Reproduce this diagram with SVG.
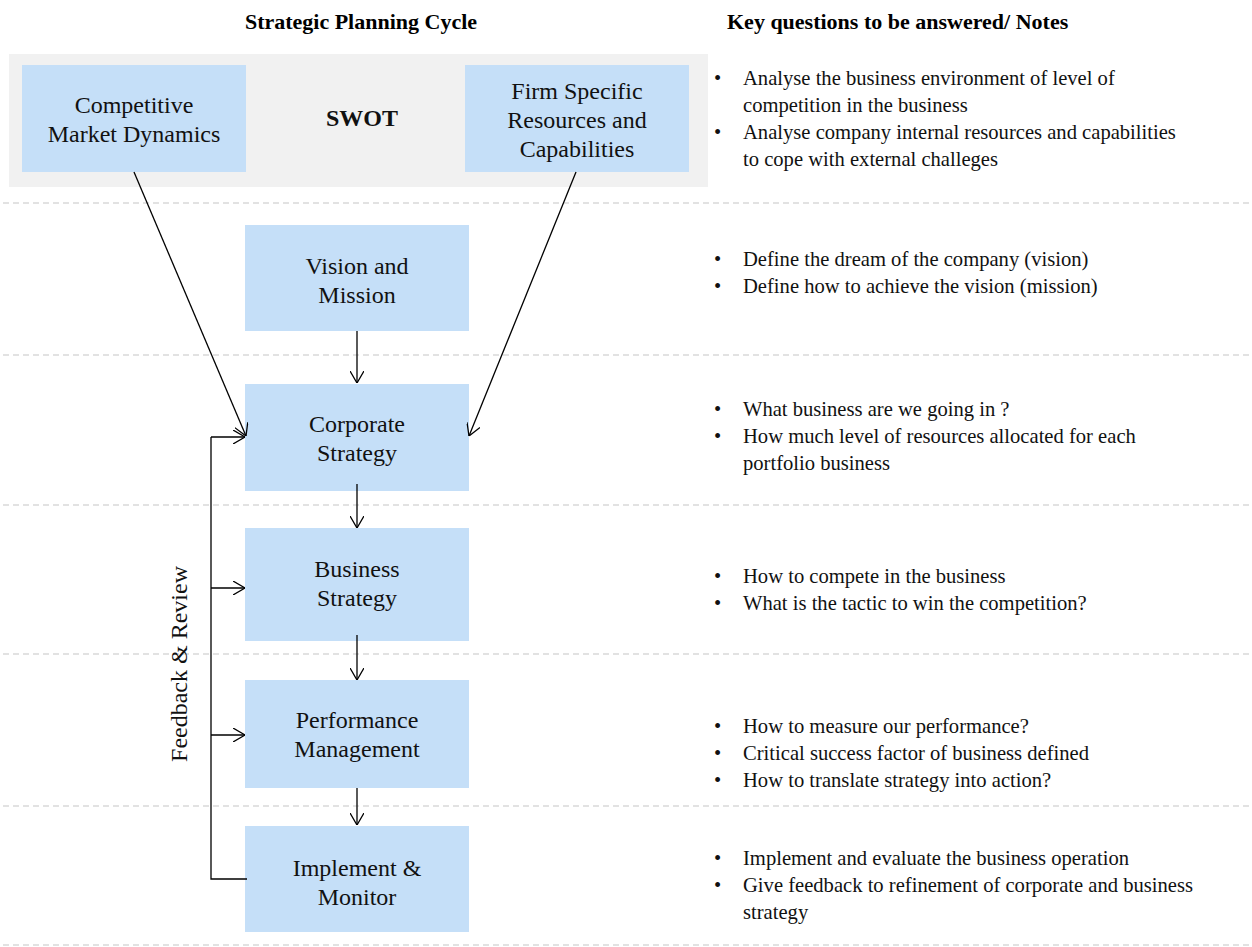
<svg xmlns="http://www.w3.org/2000/svg" width="1252" height="947" viewBox="0 0 1252 947">
  <style>
    .node { fill: #c5dff8; }
    .lbl { font-family: "Liberation Serif", "Times New Roman", serif; font-size: 24px; fill: #111; text-anchor: middle; }
    .hdr { font-family: "Liberation Serif", "Times New Roman", serif; font-size: 22px; font-weight: bold; fill: #000; }
    .note { font-family: "Liberation Serif", "Times New Roman", serif; font-size: 20.6px; fill: #111; }
    .sep { stroke: #d9d9d9; stroke-width: 1.5; stroke-dasharray: 6 4; fill: none; }
    .conn { stroke: #000; stroke-width: 1.3; fill: none; }
  </style>
  <defs>
    <marker id="vhead" viewBox="0 0 12 14" refX="12" refY="7" markerWidth="12" markerHeight="14" markerUnits="userSpaceOnUse" orient="auto">
      <path d="M0,0 L12,7 L0,14" fill="none" stroke="#000" stroke-width="1.3"/>
    </marker>
  </defs>
  <rect width="1252" height="947" fill="#fff"/>

  <!-- column headers -->
  <text class="hdr" x="361" y="29" text-anchor="middle">Strategic Planning Cycle</text>
  <text class="hdr" x="727" y="29">Key questions to be answered/ Notes</text>

  <!-- row separators -->
  <g id="separators">
    <line class="sep" x1="3" y1="203" x2="1250" y2="203"/>
    <line class="sep" x1="3" y1="355" x2="1250" y2="355"/>
    <line class="sep" x1="3" y1="505" x2="1250" y2="505"/>
    <line class="sep" x1="3" y1="654" x2="1250" y2="654"/>
    <line class="sep" x1="3" y1="806" x2="1250" y2="806"/>
    <line class="sep" x1="3" y1="945" x2="1250" y2="945"/>
  </g>

  <!-- SWOT band -->
  <g id="swot">
    <rect x="9" y="54" width="699" height="133" fill="#f1f1f1"/>
    <text class="lbl" x="362" y="126" font-weight="bold" font-size="19">SWOT</text>
  </g>
  <g id="competitive">
    <rect class="node" x="22" y="65" width="224" height="107"/>
    <text class="lbl" x="134" y="113">Competitive</text>
    <text class="lbl" x="134" y="142">Market Dynamics</text>
  </g>
  <g id="firm">
    <rect class="node" x="465" y="65" width="224" height="107"/>
    <text class="lbl" x="577" y="99">Firm Specific</text>
    <text class="lbl" x="577" y="128">Resources and</text>
    <text class="lbl" x="577" y="157">Capabilities</text>
  </g>

  <!-- cycle nodes -->
  <g id="vision">
    <rect class="node" x="245" y="225" width="224" height="106"/>
    <text class="lbl" x="357" y="274">Vision and</text>
    <text class="lbl" x="357" y="303">Mission</text>
  </g>
  <g id="corporate">
    <rect class="node" x="245" y="384" width="224" height="107"/>
    <text class="lbl" x="357" y="432">Corporate</text>
    <text class="lbl" x="357" y="461">Strategy</text>
  </g>
  <g id="business">
    <rect class="node" x="245" y="528" width="224" height="113"/>
    <text class="lbl" x="357" y="577">Business</text>
    <text class="lbl" x="357" y="606">Strategy</text>
  </g>
  <g id="performance">
    <rect class="node" x="245" y="680" width="224" height="108"/>
    <text class="lbl" x="357" y="728">Performance</text>
    <text class="lbl" x="357" y="757">Management</text>
  </g>
  <g id="implement">
    <rect class="node" x="245" y="826" width="224" height="106"/>
    <text class="lbl" x="357" y="876">Implement &amp;</text>
    <text class="lbl" x="357" y="905">Monitor</text>
  </g>

  <!-- connectors -->
  <g id="connectors">
    <line class="conn" x1="134" y1="172" x2="246" y2="436" marker-end="url(#vhead)"/>
    <line class="conn" x1="576" y1="172" x2="469" y2="436" marker-end="url(#vhead)"/>
    <line class="conn" x1="357" y1="331" x2="357" y2="383" marker-end="url(#vhead)"/>
    <line class="conn" x1="357" y1="484" x2="357" y2="528" marker-end="url(#vhead)"/>
    <line class="conn" x1="357" y1="635" x2="357" y2="680" marker-end="url(#vhead)"/>
    <line class="conn" x1="357" y1="788" x2="357" y2="825" marker-end="url(#vhead)"/>
    <!-- feedback loop -->
    <polyline class="conn" points="247,879 211,879 211,437"/>
    <line class="conn" x1="211" y1="437" x2="245" y2="437" marker-end="url(#vhead)"/>
    <line class="conn" x1="211" y1="588" x2="245" y2="588" marker-end="url(#vhead)"/>
    <line class="conn" x1="211" y1="735" x2="245" y2="735" marker-end="url(#vhead)"/>
  </g>
  <g id="feedback-label">
    <text class="lbl" transform="translate(187,664) rotate(-90)">Feedback &amp; Review</text>
  </g>

  <!-- notes -->
  <g id="notes" class="note">
    <text x="714" y="85">•</text>
    <text x="743" y="85">Analyse the business environment of level of</text>
    <text x="743" y="112">competition in the business</text>
    <text x="714" y="139">•</text>
    <text x="743" y="139">Analyse company internal resources and capabilities</text>
    <text x="743" y="166">to cope with external challeges</text>

    <text x="714" y="266">•</text>
    <text x="743" y="266">Define the dream of the company (vision)</text>
    <text x="714" y="293">•</text>
    <text x="743" y="293">Define how to achieve the vision (mission)</text>

    <text x="714" y="416">•</text>
    <text x="743" y="416">What business are we going in ?</text>
    <text x="714" y="443">•</text>
    <text x="743" y="443">How much level of resources allocated for each</text>
    <text x="743" y="470">portfolio business</text>

    <text x="714" y="583">•</text>
    <text x="743" y="583">How to compete in the business</text>
    <text x="714" y="610">•</text>
    <text x="743" y="610">What is the tactic to win the competition?</text>

    <text x="714" y="733">•</text>
    <text x="743" y="733">How to measure our performance?</text>
    <text x="714" y="760">•</text>
    <text x="743" y="760">Critical success factor of business defined</text>
    <text x="714" y="787">•</text>
    <text x="743" y="787">How to translate strategy into action?</text>

    <text x="714" y="865">•</text>
    <text x="743" y="865">Implement and evaluate the business operation</text>
    <text x="714" y="892">•</text>
    <text x="743" y="892">Give feedback to refinement of corporate and business</text>
    <text x="743" y="919">strategy</text>
  </g>
</svg>
